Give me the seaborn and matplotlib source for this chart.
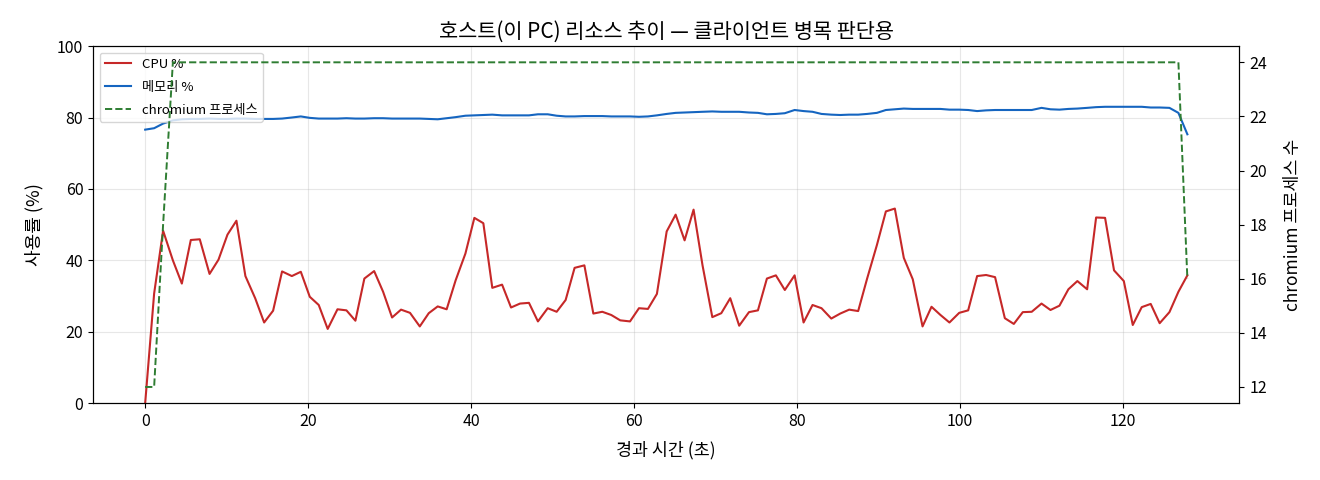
import matplotlib
matplotlib.use("Agg")
import matplotlib.pyplot as plt
import seaborn as sns
import pandas as pd

elapsed_s = [0.0, 1.1, 2.2, 3.4, 4.5, 5.6, 6.7, 7.9, 9.0, 10.1,
             11.2, 12.3, 13.5, 14.6, 15.7, 16.8, 18.0, 19.1, 20.2, 21.3,
             22.4, 23.6, 24.7, 25.8, 26.9, 28.1, 29.2, 30.3, 31.4, 32.5,
             33.7, 34.8, 35.9, 37.0, 38.1, 39.3, 40.4, 41.5, 42.6, 43.8,
             44.9, 46.0, 47.1, 48.2, 49.4, 50.5, 51.6, 52.7, 53.9, 55.0,
             56.1, 57.2, 58.3, 59.5, 60.6, 61.7, 62.8, 64.0, 65.1, 66.2,
             67.3, 68.4, 69.6, 70.7, 71.8, 72.9, 74.1, 75.2, 76.3, 77.4,
             78.5, 79.7, 80.8, 81.9, 83.0, 84.2, 85.3, 86.4, 87.5, 88.6,
             89.8, 90.9, 92.0, 93.1, 94.2, 95.4, 96.5, 97.6, 98.7, 99.9,
             101.0, 102.1, 103.2, 104.3, 105.5, 106.6, 107.7, 108.8, 110.0, 111.1,
             112.2, 113.3, 114.4, 115.6, 116.7, 117.8, 118.9, 120.1, 121.2, 122.3,
             123.4, 124.5, 125.7, 126.8, 127.9]

cpu_pct = [0.0, 30.7, 48.3, 40.0, 33.5, 45.7, 45.9, 36.2, 40.2, 47.2,
           51.1, 35.6, 29.4, 22.6, 25.9, 36.9, 35.6, 36.8, 29.8, 27.5,
           20.8, 26.3, 26.0, 23.1, 34.9, 37.0, 31.2, 24.0, 26.2, 25.3,
           21.5, 25.2, 27.1, 26.3, 34.4, 41.9, 51.9, 50.4, 32.3, 33.2,
           26.8, 27.9, 28.1, 22.9, 26.6, 25.6, 28.9, 37.9, 38.6, 25.1,
           25.6, 24.7, 23.2, 22.9, 26.6, 26.4, 30.6, 48.1, 52.8, 45.6,
           54.2, 38.6, 24.1, 25.2, 29.4, 21.7, 25.5, 26.0, 34.9, 35.8,
           31.7, 35.8, 22.6, 27.5, 26.6, 23.7, 25.1, 26.2, 25.8, 34.9,
           44.3, 53.7, 54.5, 40.7, 34.7, 21.5, 27.0, 24.7, 22.6, 25.3,
           26.0, 35.6, 35.9, 35.3, 23.8, 22.2, 25.5, 25.6, 27.9, 26.1,
           27.3, 31.9, 34.2, 31.9, 52.0, 51.9, 37.2, 34.2, 21.9, 26.9,
           27.8, 22.4, 25.5, 31.2, 35.8]

mem_pct = [76.6, 77.0, 78.3, 79.2, 79.5, 79.6, 79.6, 79.7, 79.6, 79.6,
           79.7, 79.7, 79.6, 79.6, 79.6, 79.7, 80.0, 80.3, 79.9, 79.7,
           79.7, 79.7, 79.8, 79.7, 79.7, 79.8, 79.8, 79.7, 79.7, 79.7,
           79.7, 79.6, 79.5, 79.8, 80.1, 80.5, 80.6, 80.7, 80.8, 80.6,
           80.6, 80.6, 80.6, 80.9, 80.9, 80.5, 80.3, 80.3, 80.4, 80.4,
           80.4, 80.3, 80.3, 80.3, 80.2, 80.3, 80.6, 81.0, 81.3, 81.4,
           81.5, 81.6, 81.7, 81.6, 81.6, 81.6, 81.4, 81.3, 80.9, 81.0,
           81.2, 82.1, 81.8, 81.6, 81.0, 80.8, 80.7, 80.8, 80.8, 81.0,
           81.3, 82.1, 82.3, 82.5, 82.4, 82.4, 82.4, 82.4, 82.2, 82.2,
           82.1, 81.8, 82.0, 82.1, 82.1, 82.1, 82.1, 82.1, 82.7, 82.3,
           82.2, 82.4, 82.5, 82.7, 82.9, 83.0, 83.0, 83.0, 83.0, 83.0,
           82.8, 82.8, 82.7, 81.3, 75.3]

chromium_procs = [12, 12, 18] + [24] * 110 + [24, 16]

df = pd.DataFrame({"t": elapsed_s, "cpu": cpu_pct, "mem": mem_pct,
                   "chrom": chromium_procs})

plt.rcParams['font.family'] = ['Noto Sans CJK KR', 'DejaVu Sans']
plt.rcParams['font.weight'] = 'light'
plt.rcParams['axes.unicode_minus'] = False

fig = plt.figure(figsize=(13.2, 4.8), dpi=100)
ax1 = fig.add_axes([0.0705, 0.160, 0.8685, 0.744])
ax2 = ax1.twinx()

sns.lineplot(data=df, x="t", y="cpu", ax=ax1, color="#c62828", lw=1.5, label="CPU %", legend=False)
sns.lineplot(data=df, x="t", y="mem", ax=ax1, color="#1565c0", lw=1.5, label="메모리 %", legend=False)
sns.lineplot(data=df, x="t", y="chrom", ax=ax2, color="#2e7d32", lw=1.4,
             linestyle="--", label="chromium 프로세스", legend=False)

ax1.set_ylim(0, 100)
ax1.set_xlabel("경과 시간 (초)", fontsize=12.5, labelpad=8)
ax1.set_ylabel("사용률 (%)", fontsize=13, labelpad=10)
ax2.set_ylabel("chromium 프로세스 수", fontsize=12.5, labelpad=12)
ax1.set_title("호스트(이 PC) 리소스 추이 — 클라이언트 병목 판단용", fontsize=15)
ax1.grid(True, alpha=0.3)
ax2.set_yticks([12, 14, 16, 18, 20, 22, 24])
ax1.tick_params(labelsize=11.5)
ax2.tick_params(labelsize=11.5)

h1, l1 = ax1.get_legend_handles_labels()
h2, l2 = ax2.get_legend_handles_labels()
ax1.legend(h1 + h2, l1 + l2, loc="upper left", fontsize=9.5, labelspacing=0.75)

fig.savefig("out.png", dpi=100)
